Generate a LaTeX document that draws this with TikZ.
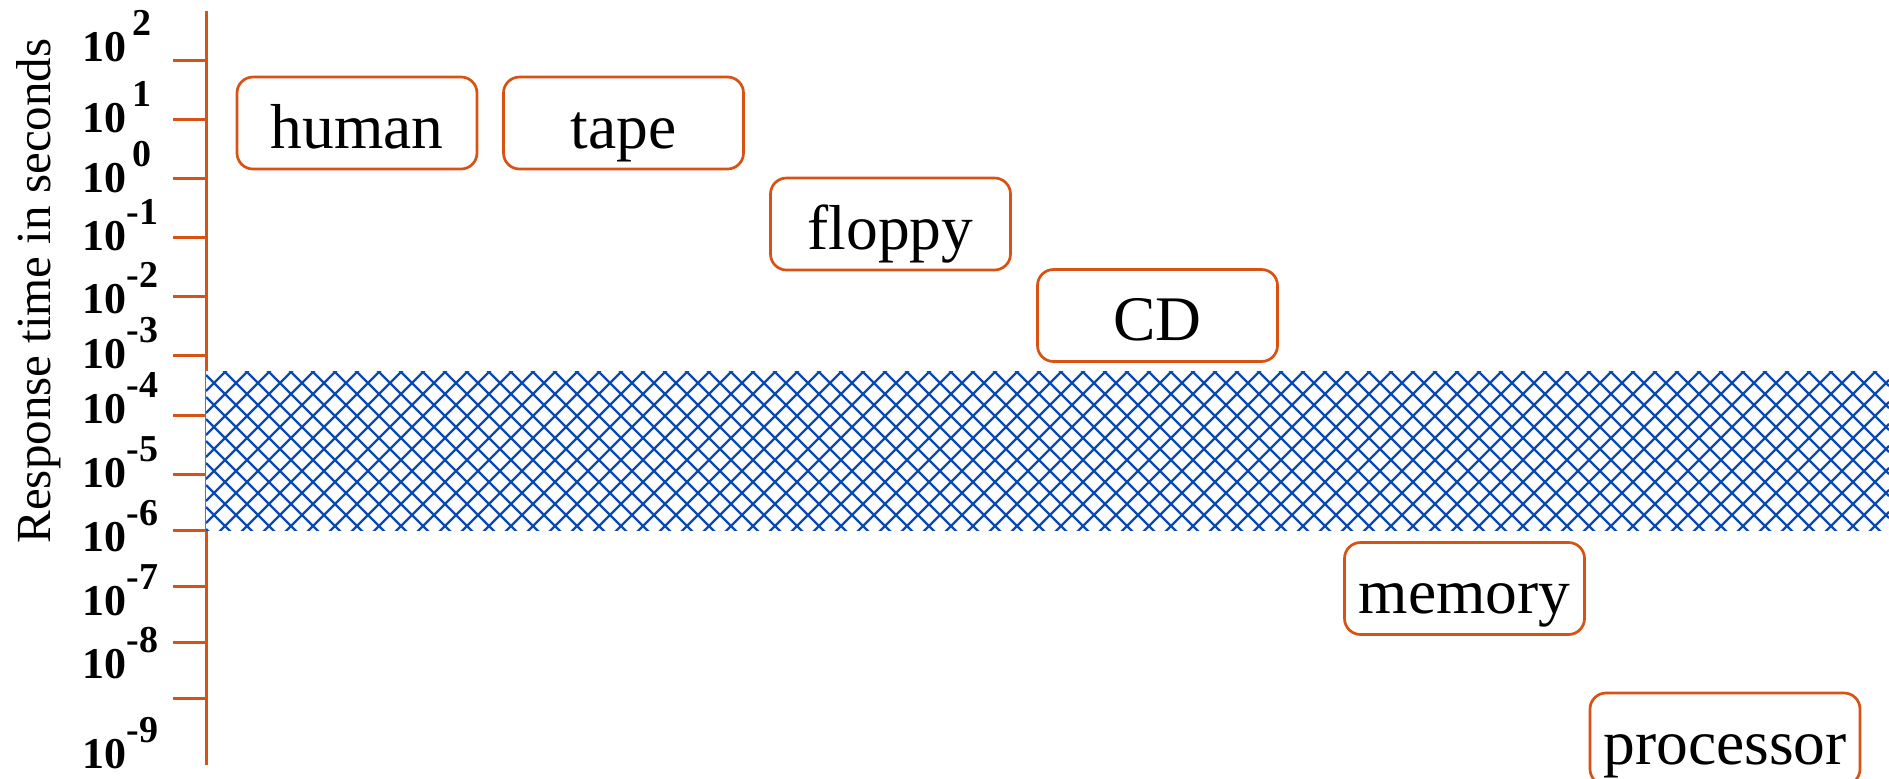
\documentclass[tikz,border=0pt]{standalone}
\usepackage{fontspec}
\setmainfont{Liberation Serif}
\definecolor{axisorange}{RGB}{216,82,20}
\definecolor{hatchblue}{RGB}{10,75,180}
\newcommand{\tickexp}[1]{\raisebox{13pt}{\fontsize{19pt}{19pt}\selectfont #1}}
\begin{document}
\begin{tikzpicture}[x=0.5pt,y=-0.5pt,
  device/.style={draw=axisorange, line width=1.35pt, rounded corners=8pt,
    minimum width=120pt, minimum height=46pt, inner sep=0pt,
    text height=25pt, text depth=0pt, fill=white,
    font=\fontsize{31.75pt}{32pt}\selectfont},
  ticklabel/.style={anchor=base west, inner sep=0pt,
    font=\fontsize{22pt}{22pt}\selectfont\bfseries},
  axisline/.style={draw=axisorange, line width=1.5pt},
  hatchline/.style={draw=hatchblue, line width=1.1pt}]
\useasboundingbox (0,0) rectangle (1889,778);

% vertical axis and tick marks
\coordinate (atop) at (206,11);
\coordinate (abot) at (206,765);
\draw[axisline] (atop) -- (abot);
\foreach \y in {60,119,178,237,296,355,415,474,530,586,642,698}
  \draw[axisline] (173,\y) -- (206,\y);

% cross-hatched band
\begin{scope}
  \fill[white] (206,371) rectangle (1889,530);
  \clip (206,371) rectangle (1889,530);
  \foreach \c in {-1525,-1503,...,341}
    \draw[hatchline] (206,206+\c) -- (1889,1889+\c);
  \foreach \c in {575,597,...,2430}
    \draw[hatchline] (206,\c-206) -- (1889,\c-1889);
\end{scope}

% tick labels
\node[ticklabel] (e2)  at (82,61)  {10\hspace{3pt}\tickexp{2}};
\node[ticklabel] (e1)  at (82,132) {10\hspace{3pt}\tickexp{1}};
\node[ticklabel] (e0)  at (82,192) {10\hspace{3pt}\tickexp{0}};
\node[ticklabel] (em1) at (82,250) {10\hspace{0pt}\tickexp{-1}};
\node[ticklabel] (em2) at (82,313) {10\hspace{0pt}\tickexp{-2}};
\node[ticklabel] (em3) at (82,368) {10\hspace{0pt}\tickexp{-3}};
\node[ticklabel] (em4) at (82,423) {10\hspace{0pt}\tickexp{-4}};
\node[ticklabel] (em5) at (82,487) {10\hspace{0pt}\tickexp{-5}};
\node[ticklabel] (em6) at (82,551) {10\hspace{0pt}\tickexp{-6}};
\node[ticklabel] (em7) at (82,615) {10\hspace{0pt}\tickexp{-7}};
\node[ticklabel] (em8) at (82,678) {10\hspace{0pt}\tickexp{-8}};
\node[ticklabel] (em9) at (82,768) {10\hspace{0pt}\tickexp{-9}};

% axis title
\node[rotate=90, anchor=base, inner sep=0pt,
  font=\fontsize{24.5pt}{25pt}\selectfont] (ytitle) at (50,291)
  {Response time in seconds};

% storage devices
\node[device] (human)  at (357,123)    {human};
\node[device] (tape)   at (623.5,123)  {tape};
\node[device] (floppy) at (890.5,224)  {floppy};
\node[device] (cd)     at (1157.5,315.5) {CD};
\node[device] (memory) at (1464.5,588.5) {memory};
\node[device, minimum width=135pt] (processor) at (1725,739) {processor};
\end{tikzpicture}
\end{document}
